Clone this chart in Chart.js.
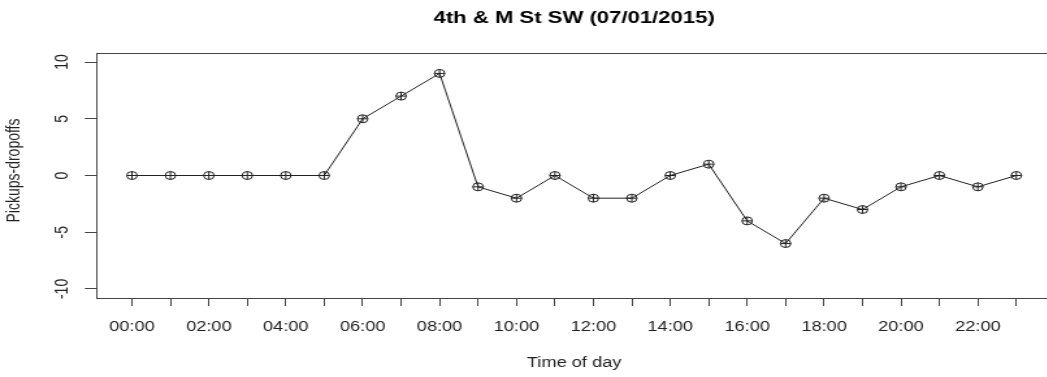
<!DOCTYPE html>
<html>
<head>
<meta charset="utf-8">
<script src="https://cdn.jsdelivr.net/npm/chart.js@4"></script>
<style>
    html, body { margin: 0; padding: 0; background: #fff; overflow: hidden; }
    #frame { width: 1047px; height: 377px; overflow: hidden; }
    /* the reference plot is stretched sideways, so the chart is drawn narrower and scaled */
    #wrap { width: 814px; height: 377px; transform: scaleX(1.3); transform-origin: 0 0; }
</style>
</head>
<body>
<div id="frame"><div id="wrap"><canvas id="chart" width="814" height="377"></canvas></div></div>
<script>
// Data
const hours = ["00:00", "01:00", "02:00", "03:00", "04:00", "05:00", "06:00", "07:00",
               "08:00", "09:00", "10:00", "11:00", "12:00", "13:00", "14:00", "15:00",
               "16:00", "17:00", "18:00", "19:00", "20:00", "21:00", "22:00", "23:00"];
const netPickups = [0, 0, 0, 0, 0, 0, 5, 7, 9, -1, -2, 0, -2, -2, 0, 1, -4, -6, -2, -3, -1, 0, -1, 0];
const yTicks = [-10, -5, 0, 5, 10];

const FONT = "'Liberation Sans', Arial, Helvetica, sans-serif";
const points = hours.map((h, i) => ({ x: i, y: netPickups[i] }));

// R-style box and rotated y labels
const rStyle = {
    id: "rStyle",
    afterDraw(chart) {
        const { ctx, chartArea: a } = chart;
        const y = chart.scales.y;
        ctx.save();
        ctx.strokeStyle = "#444";
        ctx.lineWidth = 1;
        ctx.strokeRect(Math.round(a.left) + 0.5, Math.round(a.top) + 0.5,
                       Math.round(a.right - a.left) + 2, Math.round(a.bottom - a.top));
        ctx.fillStyle = "#222";
        ctx.font = "14px " + FONT;
        ctx.textAlign = "center";
        ctx.textBaseline = "middle";
        yTicks.forEach(v => {
            ctx.save();
            ctx.translate(48.5, y.getPixelForValue(v));
            ctx.rotate(-Math.PI / 2);
            ctx.fillText(String(v), 0, 0);
            ctx.restore();
        });
        // y axis title, centred a little above the plot middle as in the reference
        ctx.font = "14px " + FONT;
        ctx.save();
        ctx.translate(11.5, (a.top + a.bottom) / 2 - 5);
        ctx.rotate(-Math.PI / 2);
        ctx.fillText("Pickups-dropoffs", 0, 0);
        ctx.restore();
        ctx.restore();
    }
};

new Chart(document.getElementById("chart"), {
    type: "line",
    data: {
        datasets: [
            {
                data: points,
                borderColor: "#222",
                borderWidth: 1,
                pointStyle: "circle",
                pointRadius: 4,
                pointBorderWidth: 1,
                pointBorderColor: "#222",
                pointBackgroundColor: "rgba(0,0,0,0)",
                tension: 0
            },
            {
                data: points,
                showLine: false,
                pointStyle: "cross",
                pointRadius: 4,
                pointBorderWidth: 1,
                pointBorderColor: "#222"
            }
        ]
    },
    plugins: [rStyle],
    options: {
        responsive: false,
        animation: false,
        layout: { padding: 0 },
        plugins: {
            legend: { display: false },
            tooltip: { enabled: false },
            title: {
                display: true,
                fullSize: false,
                text: "4th & M St SW (07/01/2015)",
                color: "#000",
                font: { family: FONT, size: 17, weight: "bold" },
                padding: { top: 8, bottom: 24.6 }
            }
        },
        scales: {
            x: {
                type: "linear",
                min: -0.92,
                max: 23.92,
                afterBuildTicks: s => { s.ticks = hours.map((h, i) => ({ value: i })); },
                afterFit: s => { s.height = 79; },
                grid: { drawOnChartArea: false, tickLength: 8, color: "#444" },
                border: { display: false },
                ticks: {
                    autoSkip: false,
                    maxRotation: 0,
                    padding: 13,
                    color: "#222",
                    font: { family: FONT, size: 14 },
                    callback: v => (v % 2 === 0 ? hours[v] : "")
                },
                title: {
                    display: true,
                    text: "Time of day",
                    color: "#222",
                    font: { family: FONT, size: 14 },
                    padding: { top: 0, bottom: 5.6 }
                }
            },
            y: {
                min: -10.8,
                max: 10.8,
                afterBuildTicks: s => { s.ticks = yTicks.map(v => ({ value: v })); },
                afterFit: s => { s.width = 74.3; },
                grid: { drawOnChartArea: false, tickLength: 9, color: "#444" },
                border: { display: false },
                ticks: { display: false },
                title: { display: false }
            }
        }
    }
});
</script>
</body>
</html>
